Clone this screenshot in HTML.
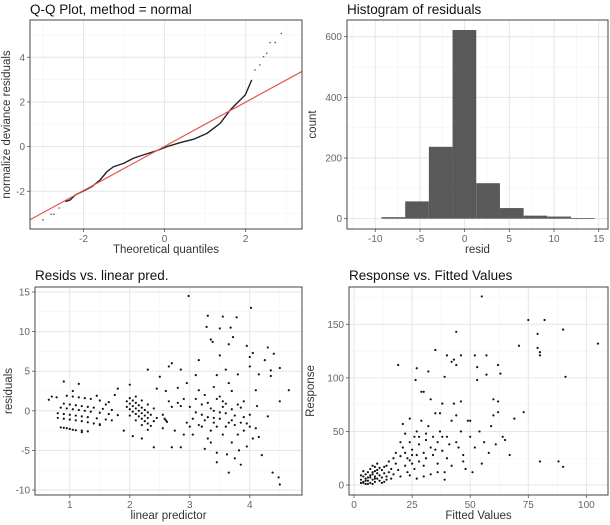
<!DOCTYPE html>
<html><head><meta charset="utf-8"><style>
html,body{margin:0;padding:0;background:#fff;}
svg{display:block;font-family:"Liberation Sans",Arial,sans-serif;}
</style></head><body>
<svg id="chart" width="610" height="525" viewBox="0 0 610 525" xmlns="http://www.w3.org/2000/svg"></svg>
<script>
// ---- Q-Q data ----
const qqTheo = [-2.45,-2.33,-2.2,-2.0,-1.79,-1.59,-1.42,-1.26,-1.01,-0.77,-0.52,-0.19,0.06,0.39,0.72,1.05,1.37,1.62,1.82,1.99,2.15];
const qqSample = [-2.46,-2.39,-2.16,-1.99,-1.79,-1.49,-1.12,-0.9,-0.75,-0.52,-0.37,-0.18,0,0.18,0.33,0.6,1.04,1.64,2.01,2.31,2.99];
const qqTailTheo = [-3.0,-2.8,-2.73,-2.6,2.23,2.35,2.44,2.52,2.6,2.73,2.88];
const qqTailSample = [-3.28,-3.03,-3.03,-2.75,3.43,3.66,4.03,4.18,4.66,4.66,5.07];
const qqLineSlope = 0.99;
const qqLineIntercept = 0.01;
const qqXTicks = [-2,0,2];
const qqYTicks = [-2,0,2,4];
// ---- Histogram ----
const histEdges = [-9.3,-6.65,-4.0,-1.35,1.3,3.95,6.6,9.25,11.9,14.55];
const histCounts = [5,57,237,622,117,35,10,7,2];
const histXTicks = [-10,-5,0,5,10,15];
const histYTicks = [0,200,400,600];
// ---- Resids vs linear pred ----
const linPred = [0.85,0.9,0.95,1.0,1.05,1.1,1.2,1.3,0.8,0.9,1.0,1.1,1.2,1.3,1.4,1.5,0.8,0.9,1.0,1.1,1.2,1.3,1.45,1.6,1.7,0.85,0.95,1.05,1.15,1.25,1.35,1.5,1.65,1.8,0.9,1.0,1.1,1.2,1.3,1.4,1.55,1.7,0.95,1.05,1.15,1.25,1.35,1.5,1.65,0.65,0.7,0.78,0.9,1.15,1.05,1.45,1.8,1.75,1.2,1.5,1.6,
1.95,2.0,2.05,2.1,2.15,2.2,2.25,2.3,2.35,1.95,2.0,2.05,2.1,2.15,2.2,2.25,2.3,2.4,2.0,2.05,2.1,2.15,2.2,2.25,2.3,2.35,2.45,2.1,2.2,2.3,2.4,2.0,2.1,2.2,2.3,2.05,2.0,2.3,2.5,2.4,2.2,2.45,1.9,
2.55,2.6,2.62,2.58,2.65,2.7,2.75,2.7,2.8,2.85,2.9,2.85,2.65,2.7,2.85,2.95,2.9,2.8,2.6,2.55,2.98,2.95,
3.0,3.05,3.1,3.05,3.1,3.15,3.2,3.2,3.25,3.25,3.3,3.28,3.3,3.3,3.35,3.35,3.38,3.4,3.4,3.4,3.45,3.45,3.45,3.5,3.5,3.5,3.5,3.55,3.55,3.55,3.6,3.6,3.6,3.62,3.65,3.65,3.68,3.7,3.7,3.7,3.72,3.75,3.75,3.78,3.8,3.8,3.8,3.82,3.85,3.85,3.9,3.9,3.95,3.95,4.0,4.0,4.0,4.02,4.05,4.05,4.1,4.1,4.12,4.15,4.15,4.2,4.25,4.3,4.3,4.35,4.35,4.38,4.4,4.48,4.5,4.5,4.5,4.65,3.15,3.2,3.25,3.3,3.35,3.4,3.45,3.5,3.55,3.6,3.65,3.7,3.75,3.85,3.9,3.95,4.0,3.1,3.0,3.15,3.45,3.65,3.35];
const residVals = [-2.1,-2.15,-2.2,-2.3,-2.4,-2.45,-2.5,-2.6,-0.9,-1.0,-1.1,-1.2,-1.3,-1.45,-1.6,-1.7,-0.3,-0.4,-0.5,-0.6,-0.7,-0.8,-0.95,-1.1,-1.2,0.4,0.3,0.2,0.1,0,-0.1,-0.25,-0.4,-0.55,0.9,0.8,0.7,0.6,0.5,0.4,0.25,0.1,1.9,1.8,1.7,1.6,1.5,1.3,1.1,1.4,1.8,1.7,3.7,3.4,2.5,1.9,2.8,2.0,-2.7,-1.8,0.8,
0.5,0.2,-0.1,-0.4,-0.7,-1.0,-1.3,-1.6,-1.9,1.2,0.9,0.6,0.3,0,-0.3,-0.6,-0.9,-1.3,1.6,1.3,1.0,0.7,0.4,0.1,-0.2,-0.5,-0.9,1.8,1.3,0.8,0.3,-0.6,-1.2,-1.8,-2.4,-3.2,3.3,5.2,4.3,-4.6,-3.5,2.8,-2.5,
-0.5,-1.2,-1.4,-1.0,1.2,0.5,-2.5,-4.6,1.0,0.6,1.5,-4.6,5.6,6.0,5.2,-1.5,-3.0,2.9,2.5,-2.2,14.5,3.5,
0.5,-1.0,1.5,-3.0,4.5,6.4,-0.5,-2.0,-4.8,2.0,12.0,10.6,-0.8,1.0,-2.5,9.0,8.7,-1.5,0,3.0,-5.3,-6.5,4.5,10.4,7.0,-1.0,1.8,-3.0,0.5,11.9,-2.0,5.2,-0.3,-5.5,-7.8,8.4,10.5,-1.2,2.5,-4.0,9.3,-1.8,-6.0,11.8,4.6,0.8,-3.0,-5.0,-6.8,-1.5,1.2,-2.5,8.2,-4.5,5.6,6.8,-2.0,13.0,-3.5,7.3,2.6,-2.2,0.6,4.6,-3.3,-5.6,6.4,8.0,-0.7,5.1,4.4,-7.8,7.2,-8.4,-9.3,5.4,1.2,2.6,-1.8,0.8,-1.2,-3.5,0.3,-0.9,-2.0,-0.2,1.2,0.9,-1.5,0.2,-0.6,0.4,-0.8,-1.6,-0.5,-0.2,-2.0,2.6,1.5,3.5,-4.0];
const lpXTicks = [1,2,3,4];
const lpYTicks = [-10,-5,0,5,10,15];
// ---- Response vs fitted ----
const fittedVals = [3,3,4,4,5,5,5,6,6,7,7,7,8,8,8,9,9,9,10,10,10,11,11,12,12,13,13,14,14,15,15,16,16,17,17,18,18,19,19,20,20,21,21,22,22,23,23,24,24,25,25,26,26,27,27,26.5,27,28,28,29,30,29,30,30,31,31,32,32,33,33,33,34,34,35,35,36,36,37,37,38,38,39,39,39,40,40,40,41,42,42,42,43,43,44,44,44,45,46,46,46,47,48,49,50,50,51,52,52,53,53,54,55,55,56,57,57,58,59,60,60,61,62,62,62,63,64,65,67,69,71,73,75,79,79,80,80,80,82,88,90,90,91,105,4,5,6,7,8,9,10,11,12,13,14,6,3,4,8,9,20,22,24,25,28,31,35,38,44,47,30,36,27,24];
const responseVals = [2,5,3,8,1,6,10,4,12,2,7,15,5,10,18,3,8,13,6,11,20,4,9,14,7,11,3,18,8,12,22,6,15,25,10,20,30,14,112,27,8,35,57,18,30,25,12,62,40,20,33,45,15,28,109,98,50,22,38,87,87,60,30,18,42,25,106,55,80,35,10,45,28,126,67,20,40,50,67,76,32,101,12,5,121,45,25,38,115,60,18,117,76,112,143,65,35,121,78,50,28,15,60,45,60,12,121,35,110,98,50,20,176,40,121,103,30,55,80,65,38,112,78,68,104,45,42,28,62,130,68,154,141,128,124,121,22,154,22,17,145,101,132,2,4,7,9,12,6,14,16,2,17,5,1,9,13,1,17,40,48,23,28,45,48,33,45,40,22,8,12,6,9];
const rfXTicks = [0,25,50,75,100];
const rfYTicks = [0,50,100,150];

const NS = "http://www.w3.org/2000/svg";
const svg = document.getElementById('chart');
function mk(tag, attrs, parent, text){
  const e = document.createElementNS(NS, tag);
  for (const k in attrs) e.setAttribute(k, attrs[k]);
  if (text !== undefined) e.textContent = text;
  (parent || svg).appendChild(e);
  return e;
}
function scale(d0,d1,r0,r1){ return v => r0 + (v-d0)/(d1-d0)*(r1-r0); }

function panel(cfg){
  const g = mk('g', {});
  
  
  const sx = scale(cfg.xd[0],cfg.xd[1],cfg.x0,cfg.x1);
  const sy = scale(cfg.yd[0],cfg.yd[1],cfg.y1,cfg.y0);
  const minor = (ticks) => { const m=[]; const st=ticks[1]-ticks[0]; for(let i=-1;i<ticks.length;i++){ m.push(ticks[0]+st*(i+0.5)); } return m; };
  minor(cfg.xt).forEach(v=>{ const p=sx(v); if(p>cfg.x0&&p<cfg.x1) mk('line',{x1:p,x2:p,y1:cfg.y0,y2:cfg.y1,stroke:'#f3f3f3','stroke-width':0.6},g); });
  minor(cfg.yt).forEach(v=>{ const p=sy(v); if(p>cfg.y0&&p<cfg.y1) mk('line',{x1:cfg.x0,x2:cfg.x1,y1:p,y2:p,stroke:'#f3f3f3','stroke-width':0.6},g); });
  cfg.xt.forEach(v=>{ const p=sx(v); mk('line',{x1:p,x2:p,y1:cfg.y0,y2:cfg.y1,stroke:'#e6e6e6','stroke-width':1},g);
    mk('line',{x1:p,x2:p,y1:cfg.y1,y2:cfg.y1+3,stroke:'#555','stroke-width':0.8},g);
    const t = mk('text',{x:p,y:cfg.y1+13,'text-anchor':'middle','font-size':10,fill:'#666'},g,String(v));
      });
  cfg.yt.forEach(v=>{ const p=sy(v); mk('line',{x1:cfg.x0,x2:cfg.x1,y1:p,y2:p,stroke:'#e6e6e6','stroke-width':1},g);
    mk('line',{x1:cfg.x0-3,x2:cfg.x0,y1:p,y2:p,stroke:'#555','stroke-width':0.8},g);
    const t = mk('text',{x:cfg.x0-5,y:p+3.5,'text-anchor':'end','font-size':10,fill:'#666'},g,String(v));
      });
  const tt = mk('text',{x:cfg.x0,y:cfg.titleY,'font-size':13.5,fill:'#111'},g,cfg.title);
   
  const xt = mk('text',{x:(cfg.x0+cfg.x1)/2,y:cfg.y1+24,'text-anchor':'middle','font-size':11.5,fill:'#333'},g,cfg.xlab);
   
  const yx = cfg.ylabX, yy=(cfg.y0+cfg.y1)/2;
  const yt = mk('text',{x:yx,y:yy,'text-anchor':'middle','font-size':11.5,fill:'#333',transform:`rotate(-90 ${yx} ${yy})`},g,cfg.ylab);
   
  const clip = 'clip'+cfg.name;
  const cp = mk('clipPath',{id:clip},g); mk('rect',{x:cfg.x0,y:cfg.y0,width:cfg.x1-cfg.x0,height:cfg.y1-cfg.y0},cp);
  const data = mk('g',{'clip-path':`url(#${clip})`},g);
  cfg.draw(data,sx,sy);
  mk('rect',{x:cfg.x0,y:cfg.y0,width:cfg.x1-cfg.x0,height:cfg.y1-cfg.y0,fill:'none',stroke:'#444','stroke-width':1},g);
}

panel({name:'qq-plot',x0:30,x1:302,y0:20,y1:229,xd:[-3.32,3.39],yd:[-3.69,5.67],xt:qqXTicks,yt:qqYTicks,
  title:'Q-Q Plot, method = normal',titleY:14,xlab:'Theoretical quantiles',ylab:'normalize deviance residuals',ylabX:10,
  draw:(g,sx,sy)=>{
    const pts = qqTheo.map((v,i)=>sx(v)+','+sy(qqSample[i])).join(' ');
    const pl = mk('polyline',{points:pts,fill:'none',stroke:'#222','stroke-width':1.4},g);
     
    qqTailTheo.forEach((v,i)=>{ const c=mk('circle',{cx:sx(v),cy:sy(qqTailSample[i]),r:0.8,fill:'#555'},g);
        });
    const l = mk('line',{x1:sx(-3.32),y1:sy(qqLineIntercept+qqLineSlope*-3.32),x2:sx(3.39),y2:sy(qqLineIntercept+qqLineSlope*3.39),stroke:'#e8544e','stroke-width':1.2},g);
     
  }});

panel({name:'histogram',x0:347,x1:608,y0:20,y1:229,xd:[-13.16,16.04],yd:[-34,655],xt:histXTicks,yt:histYTicks,
  title:'Histogram of residuals',titleY:14,xlab:'resid',ylab:'count',ylabX:316,
  draw:(g,sx,sy)=>{
    histCounts.forEach((c,i)=>{
      const x=sx(histEdges[i]), w=sx(histEdges[i+1])-x, y=sy(c);
      const r = mk('rect',{x:x,y:y,width:w,height:Math.max(sy(0)-y,0.8),fill:'#595959'},g);
       
    });
  }});

panel({name:'resid-vs-linear-pred',x0:35,x1:302,y0:287,y1:495,xd:[0.42,4.87],yd:[-10.63,15.63],xt:lpXTicks,yt:lpYTicks,
  title:'Resids vs. linear pred.',titleY:280,xlab:'linear predictor',ylab:'residuals',ylabX:12,
  draw:(g,sx,sy)=>{
    linPred.forEach((v,i)=>{ const c=mk('circle',{cx:sx(v),cy:sy(residVals[i]),r:1.1,fill:'#111'},g);
        });
  }});

panel({name:'response-vs-fitted',x0:349,x1:608,y0:287,y1:495,xd:[-2.15,109.3],yd:[-9.3,184.8],xt:rfXTicks,yt:rfYTicks,
  title:'Response vs. Fitted Values',titleY:280,xlab:'Fitted Values',ylab:'Response',ylabX:314,
  draw:(g,sx,sy)=>{
    fittedVals.forEach((v,i)=>{ const c=mk('circle',{cx:sx(v),cy:sy(responseVals[i]),r:1.1,fill:'#111'},g);
        });
  }});
</script>
</body></html>
